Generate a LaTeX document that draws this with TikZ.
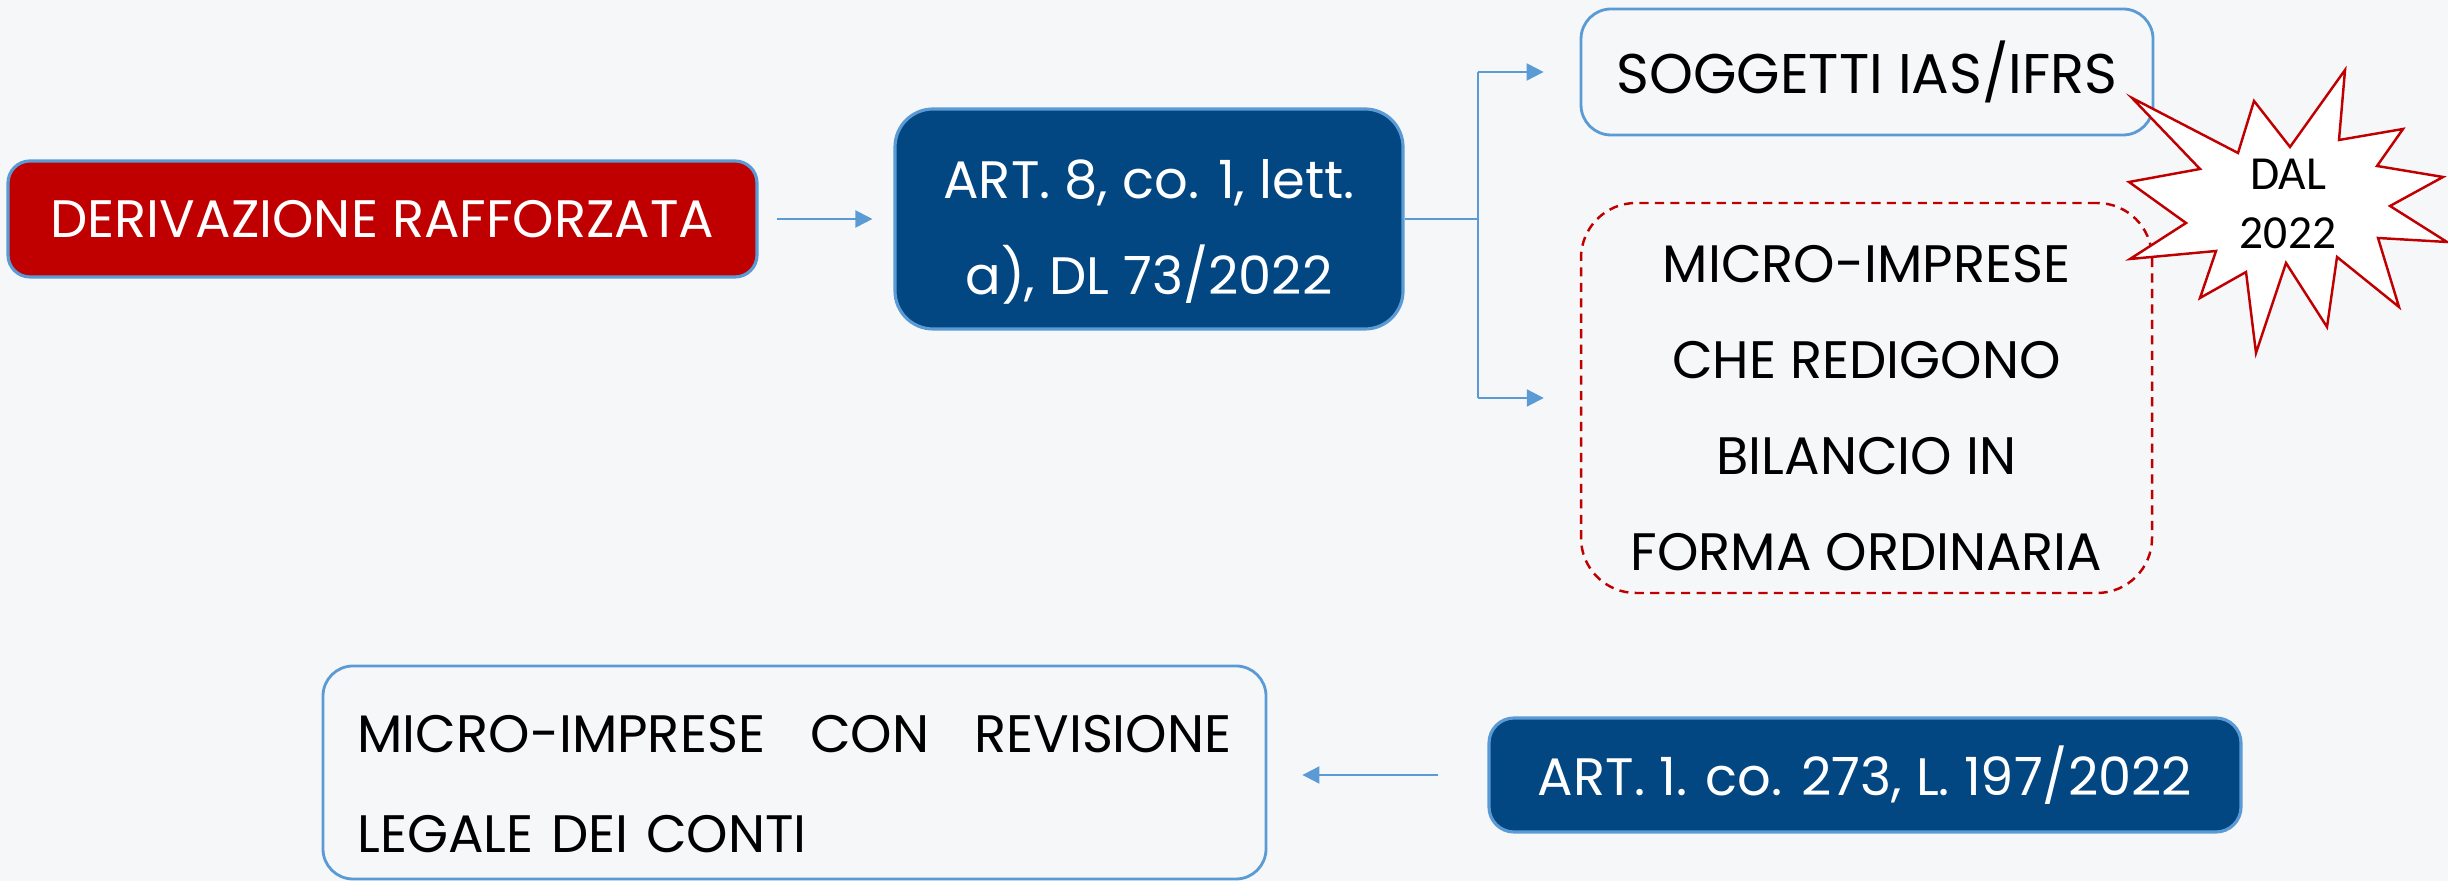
\documentclass[tikz,border=0pt]{standalone}
\usepackage{fontspec}
\setmainfont{Poppins}
\newfontfamily\starfont{Carlito}
\usetikzlibrary{arrows.meta}
\definecolor{pagebg}{RGB}{246,247,249}
\definecolor{rafred}{RGB}{192,0,0}
\definecolor{navyfill}{RGB}{2,70,130}
\definecolor{edgeblue}{RGB}{91,155,213}

\begin{document}
\begin{tikzpicture}[
  redbox/.style={draw=edgeblue, line width=0.9pt, fill=rafred, text=white, rounded corners=0.22cm, inner sep=0pt, font=\fontsize{15}{18}\selectfont},
  bluebox/.style={draw=edgeblue, line width=0.9pt, fill=navyfill, text=white, rounded corners=0.38cm, inner sep=0pt, align=center, font=\fontsize{15}{27.3}\selectfont},
  whitebox/.style={draw=edgeblue, line width=0.8pt, rounded corners=0.3cm, inner sep=0pt, font=\fontsize{15}{27.3}\selectfont},
  dashbox/.style={draw=rafred, line width=0.7pt, dash pattern=on 2.6pt off 1.8pt, rounded corners=0.55cm, inner sep=0pt, align=center, font=\fontsize{15}{27.3}\selectfont},
  link/.style={edgeblue, line width=0.6pt, -{Triangle[length=0.17cm,width=0.17cm]}},
  plain/.style={edgeblue, line width=0.6pt}
]
\useasboundingbox (0,0) rectangle (24.48,8.81);
\fill[pagebg] (0,0) rectangle (24.48,8.81);

% Top row
\node[redbox, minimum width=7.49cm, minimum height=1.16cm] (deriv) at (3.825,6.62) {DERIVAZIONE RAFFORZATA};
\node[bluebox, minimum width=5.08cm, minimum height=2.20cm, text height=45.5pt] (art8) at (11.49,6.62) {ART. 8, co. 1, lett.\\a), DL 73/2022};
\node[whitebox, minimum width=5.72cm, minimum height=1.26cm, font=\fontsize{15.9}{20}\selectfont] (sogg) at (18.67,8.09) {SOGGETTI IAS/IFRS};
\node[dashbox, minimum width=5.71cm, minimum height=3.90cm, text height=98pt] (micro) at (18.665,4.83) {MICRO-IMPRESE\\CHE REDIGONO\\BILANCIO IN\\FORMA ORDINARIA};

% Star
\draw[rafred, fill=white, line width=0.7pt] (21.32,7.83) -- (22.38,7.28) -- (22.54,7.80) -- (22.90,7.34)
  -- (23.45,8.11) -- (23.39,7.41) -- (24.03,7.52) -- (23.77,7.15) -- (24.43,7.04) -- (23.90,6.75)
  -- (24.47,6.39) -- (23.78,6.43) -- (23.99,5.74) -- (23.37,6.24) -- (23.27,5.54) -- (22.86,6.18)
  -- (22.56,5.28) -- (22.46,6.09) -- (22.00,5.83) -- (22.16,6.30) -- (21.30,6.22) -- (21.86,6.58)
  -- (21.29,6.99) -- (22.00,7.12) -- cycle;
\node[font=\starfont\fontsize{13.5}{16.8}\selectfont, align=center] (dal) at (22.88,6.77) {DAL\\2022};

% Bottom row
\node[whitebox, minimum width=9.43cm, minimum height=2.13cm, text width=8.74cm, align=left, text height=17pt, font=\fontsize{15}{28.5}\selectfont] (revis) at (7.945,1.085) {MICRO-IMPRESE\hfill CON\hfill REVISIONE\\LEGALE DEI CONTI};
\node[bluebox, rounded corners=0.25cm, minimum width=7.52cm, minimum height=1.14cm] (art1) at (18.65,1.06) {ART. 1. co. 273, L. 197/2022};

% Arrows
\draw[link] ([xshift=0.18cm]deriv.east) -- ([xshift=-0.21cm]art8.west);
\coordinate (fork) at ([xshift=0.73cm]art8.east);
\draw[plain] (art8.east) -- (fork);
\draw[plain] (fork |- sogg.west) -- (fork |- micro.west);
\draw[link] (fork |- sogg.west) -- ([xshift=-0.36cm]sogg.west);
\draw[link] (fork |- micro.west) -- ([xshift=-0.36cm]micro.west);
\draw[link] ([xshift=-0.49cm]art1.west) -- ([xshift=0.35cm]revis.east |- art1.west);
\end{tikzpicture}
\end{document}
